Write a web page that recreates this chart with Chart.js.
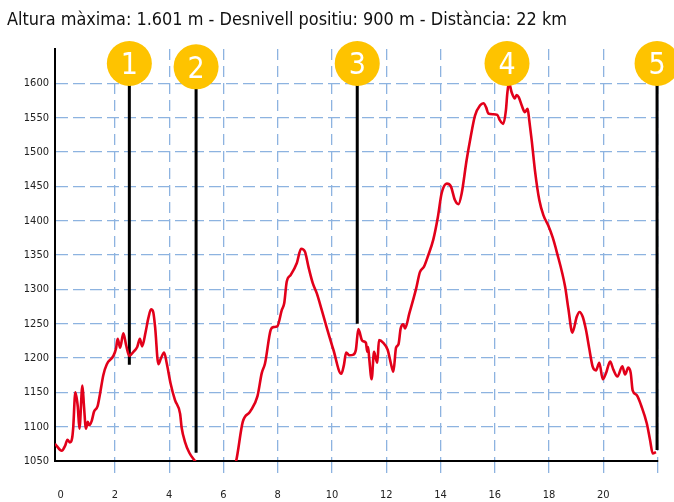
<!DOCTYPE html>
<html><head><meta charset="utf-8">
<script src="https://cdn.jsdelivr.net/npm/chart.js@4.4.0/dist/chart.umd.min.js"></script>
<style>html,body{margin:0;padding:0;background:#fff;}#wrap{width:674px;height:502px;}</style>
</head><body><div id="wrap"><canvas id="c" width="674" height="502"></canvas></div>
<script>
const titleText = 'Altura màxima: 1.601 m - Desnivell positiu: 900 m - Distància: 22 km';

const distanceKm = [-0.21,0.04,0.16,0.25,0.34,0.42,0.46,0.54,0.63,0.69,0.80,0.86,0.93,1.00,1.05,1.14,1.23,1.36,1.45,1.57,1.70,1.94,2.04,2.10,2.19,2.31,2.41,2.53,2.68,2.82,2.92,3.00,3.13,3.23,3.33,3.41,3.48,3.60,3.69,3.81,3.91,4.05,4.21,4.40,4.46,4.58,4.74,4.95,5.30,5.80,6.20,6.46,6.71,6.98,7.25,7.41,7.53,7.74,7.84,7.98,8.15,8.24,8.33,8.48,8.70,8.86,9.00,9.13,9.29,9.44,9.62,9.80,10.05,10.34,10.44,10.52,10.64,10.79,10.88,10.97,11.10,11.18,11.25,11.30,11.33,11.37,11.46,11.55,11.61,11.67,11.73,11.89,12.05,12.17,12.26,12.36,12.45,12.53,12.63,12.69,12.85,13.10,13.24,13.39,13.55,13.73,13.90,14.04,14.23,14.38,14.53,14.66,14.78,14.96,15.11,15.27,15.46,15.58,15.68,15.76,15.94,16.09,16.19,16.31,16.41,16.46,16.52,16.62,16.74,16.80,16.88,16.99,17.11,17.21,17.27,17.36,17.48,17.64,17.79,17.97,18.13,18.28,18.59,18.71,18.86,19.02,19.12,19.24,19.36,19.48,19.61,19.73,19.85,19.98,20.10,20.25,20.37,20.52,20.70,20.80,20.92,21.01,21.08,21.23,21.41,21.60,21.72,21.82,21.94];
const elevationM = [1075,1065,1072,1081,1077,1083,1098,1150,1129,1097,1160,1129,1097,1107,1102,1108,1122,1130,1148,1175,1191,1203,1214,1228,1215,1236,1219,1203,1209,1216,1228,1217,1238,1258,1271,1267,1245,1191,1199,1208,1192,1163,1139,1119,1098,1078,1062,1050,1030,1015,1030,1049,1107,1122,1144,1178,1192,1241,1245,1246,1270,1280,1311,1321,1338,1359,1355,1333,1309,1294,1270,1245,1212,1177,1190,1208,1204,1205,1212,1242,1226,1224,1222,1209,1216,1200,1169,1209,1200,1193,1226,1222,1212,1192,1180,1215,1220,1243,1249,1243,1265,1301,1325,1333,1350,1372,1405,1440,1454,1450,1430,1424,1440,1488,1522,1553,1568,1571,1565,1556,1555,1554,1546,1541,1561,1585,1601,1587,1578,1583,1580,1568,1558,1563,1546,1517,1473,1430,1408,1393,1376,1355,1304,1272,1237,1260,1267,1260,1241,1214,1187,1182,1193,1169,1178,1195,1183,1173,1188,1176,1186,1178,1153,1146,1129,1105,1081,1061,1063];

const xTickValues = [0,2,4,6,8,10,12,14,16,18,20,22];
const xTickLabels = ['0','2','4','6','8','10','12','14','16','18','20',''];
const yTickValues = [1050,1100,1150,1200,1250,1300,1350,1400,1450,1500,1550,1600];

const markerLabels = ['1','2','3','4','5'];
const markerKm = [2.53,4.99,10.93,16.45,21.98];
const markerTopM = [1629,1624,1629,1629,1629];
const markerBottomM = [1190,1062,1250,1601,1066];

const FONT = '"Liberation Sans Narrow","DejaVu Sans Condensed","Roboto Condensed","Liberation Sans",sans-serif';
const GRID = '#8DB3E0';
const CLEAR = 'rgba(0,0,0,0)';

const overlay = {
  id: 'overlay',
  afterDatasetsDraw(chart) {
    const {ctx, scales: {x, y}} = chart;
    ctx.save();
    ctx.fillStyle = '#ffffff';
    ctx.font = '30px ' + FONT;
    ctx.textAlign = 'center';
    ctx.textBaseline = 'alphabetic';
    markerLabels.forEach((t, i) => {
      ctx.fillText(t, x.getPixelForValue(markerKm[i]), y.getPixelForValue(markerTopM[i]) + 11);
    });
    ctx.restore();
  },
  afterDraw(chart) {
    const ctx = chart.ctx;
    ctx.save();
    ctx.font = '18px ' + FONT;
    ctx.fillStyle = '#111';
    ctx.textBaseline = 'alphabetic';
    const w = ctx.measureText(titleText).width;
    const sx = Math.max(0.8, Math.min(1.25, 560 / w));
    ctx.translate(7, 25);
    ctx.scale(sx, 1);
    ctx.fillText(titleText, 0, 0);
    ctx.restore();
  }
};

const datasets = [
  {
    data: markerKm.map((k, i) => ({x: k, y: markerTopM[i]})),
    showLine: false, pointRadius: 22.5, pointHoverRadius: 22.5,
    pointBackgroundColor: '#FEC300', pointBorderWidth: 0, clip: false, order: 0
  },
  {
    data: distanceKm.map((k, i) => ({x: k, y: elevationM[i]})),
    borderColor: '#E2001A', borderWidth: 2.6, pointRadius: 0,
    cubicInterpolationMode: 'monotone', order: 1
  }
].concat(markerKm.map((k, i) => ({
  data: [{x: k, y: markerTopM[i]}, {x: k, y: markerBottomM[i]}],
  borderColor: '#000', borderWidth: 3, pointRadius: 0, order: 2, borderCapStyle: 'butt', clip: false
})));

new Chart(document.getElementById('c'), {
  type: 'line',
  data: {datasets},
  plugins: [overlay],
  options: {
    responsive: false, devicePixelRatio: 1, animation: false, events: [],
    layout: {autoPadding: false, padding: {top: 49, right: 16.4, bottom: 0, left: 0}},
    plugins: {legend: {display: false}, tooltip: {enabled: false}, title: {display: false}},
    scales: {
      x: {
        type: 'linear', min: -0.21, max: 22,
        afterBuildTicks: s => { s.ticks = xTickValues.map(v => ({value: v})); },
        afterFit: s => { s.height = 41; s.paddingLeft = 0; s.paddingRight = 0; },
        ticks: {
          autoSkip: false, maxRotation: 0, padding: 14, color: '#222',
          font: {family: FONT, size: 11},
          callback: v => { const i = xTickValues.indexOf(v); return i >= 0 ? xTickLabels[i] : ''; }
        },
        grid: {
          color: c => (c.tick && c.tick.value === 0) ? CLEAR : GRID,
          tickColor: c => (c.tick && c.tick.value === 0) ? CLEAR : GRID,
          lineWidth: 1.3, tickWidth: 1.3, tickLength: 14, tickBorderDash: [11, 5], drawTicks: true
        },
        border: {display: true, color: '#000', width: 2, dash: [11, 6]}
      },
      y: {
        type: 'linear', min: 1050, max: 1650,
        afterBuildTicks: s => { s.ticks = yTickValues.map(v => ({value: v})); },
        afterFit: s => { s.width = 55; },
        ticks: {padding: 6, color: '#222', font: {family: FONT, size: 11}, callback: v => String(v)},
        grid: {
          color: c => (c.tick && c.tick.value === 1050) ? CLEAR : GRID,
          lineWidth: 1.3, drawTicks: false
        },
        border: {display: true, color: '#000', width: 2, dash: [12, 5]}
      }
    }
  }
});
</script>
</body></html>
